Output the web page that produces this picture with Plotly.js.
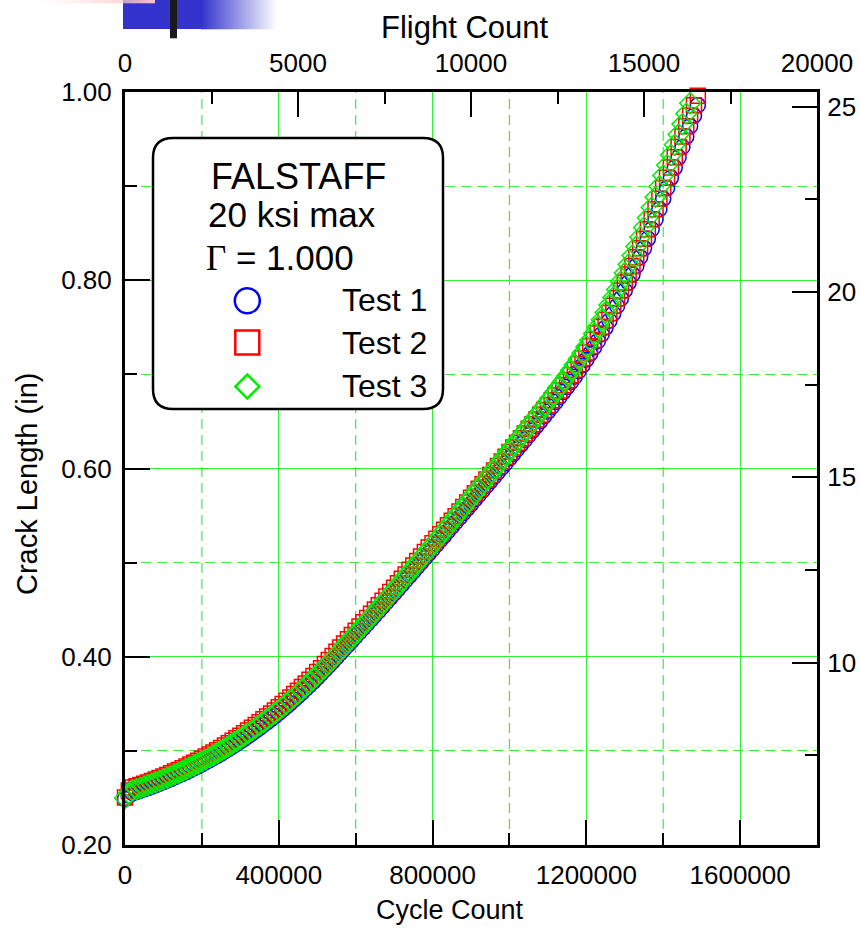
<!DOCTYPE html>
<html><head><meta charset="utf-8">
<script src="https://cdn.plot.ly/plotly-3.0.1.min.js"></script>
<style>body{margin:0;background:#fff}#chart{width:860px;height:930px}</style>
</head><body><div id="chart"></div>
<script>
// ---- data: cycle count (every 10000 cycles) and crack length (in) ----
const cycles = [0,10000,20000,30000,40000,50000,60000,70000,80000,90000,100000,110000,120000,130000,140000,150000,160000,170000,180000,190000,200000,210000,220000,230000,240000,250000,260000,270000,280000,290000,300000,310000,320000,330000,340000,350000,360000,370000,380000,390000,400000,410000,420000,430000,440000,450000,460000,470000,480000,490000,500000,510000,520000,530000,540000,550000,560000,570000,580000,590000,600000,610000,620000,630000,640000,650000,660000,670000,680000,690000,700000,710000,720000,730000,740000,750000,760000,770000,780000,790000,800000,810000,820000,830000,840000,850000,860000,870000,880000,890000,900000,910000,920000,930000,940000,950000,960000,970000,980000,990000,1000000,1010000,1020000,1030000,1040000,1050000,1060000,1070000,1080000,1090000,1100000,1110000,1120000,1130000,1140000,1150000,1160000,1170000,1180000,1190000,1200000,1210000,1220000,1230000,1240000,1250000,1260000,1270000,1280000,1290000,1300000,1310000,1320000,1330000,1340000,1350000,1360000,1370000,1380000,1390000,1400000,1410000,1420000,1430000,1440000,1450000,1460000,1470000,1480000,1490000];
const test1 = [0.2490,0.2525,0.2550,0.2563,0.2577,0.2591,0.2605,0.2620,0.2636,0.2652,0.2668,0.2685,0.2702,0.2720,0.2738,0.2756,0.2775,0.2795,0.2815,0.2836,0.2857,0.2879,0.2901,0.2924,0.2947,0.2971,0.2996,0.3021,0.3047,0.3073,0.3100,0.3128,0.3156,0.3185,0.3214,0.3244,0.3275,0.3306,0.3338,0.3370,0.3403,0.3437,0.3472,0.3507,0.3543,0.3580,0.3618,0.3657,0.3696,0.3736,0.3777,0.3819,0.3862,0.3905,0.3949,0.3993,0.4037,0.4082,0.4127,0.4172,0.4217,0.4261,0.4306,0.4352,0.4397,0.4442,0.4487,0.4533,0.4580,0.4626,0.4672,0.4718,0.4766,0.4813,0.4860,0.4907,0.4954,0.5002,0.5049,0.5096,0.5143,0.5191,0.5238,0.5285,0.5333,0.5381,0.5430,0.5478,0.5526,0.5574,0.5622,0.5671,0.5719,0.5767,0.5815,0.5864,0.5912,0.5960,0.6008,0.6057,0.6107,0.6156,0.6205,0.6254,0.6303,0.6353,0.6402,0.6451,0.6501,0.6552,0.6603,0.6654,0.6706,0.6758,0.6812,0.6865,0.6919,0.6975,0.7033,0.7094,0.7156,0.7220,0.7286,0.7355,0.7425,0.7497,0.7571,0.7647,0.7726,0.7807,0.7891,0.7975,0.8062,0.8152,0.8245,0.8341,0.8440,0.8542,0.8647,0.8755,0.8866,0.8980,0.9088,0.9197,0.9306,0.9416,0.9526,0.9637,0.9748,0.9860];
const test2 = [0.2505,0.2580,0.2610,0.2623,0.2637,0.2651,0.2665,0.2680,0.2696,0.2712,0.2728,0.2745,0.2762,0.2780,0.2798,0.2816,0.2835,0.2855,0.2875,0.2896,0.2917,0.2939,0.2961,0.2984,0.3007,0.3031,0.3056,0.3081,0.3107,0.3133,0.3160,0.3188,0.3216,0.3245,0.3274,0.3304,0.3335,0.3366,0.3398,0.3430,0.3463,0.3497,0.3532,0.3567,0.3603,0.3640,0.3678,0.3717,0.3756,0.3796,0.3837,0.3879,0.3922,0.3965,0.4009,0.4053,0.4097,0.4142,0.4187,0.4232,0.4277,0.4321,0.4367,0.4412,0.4458,0.4503,0.4548,0.4595,0.4641,0.4688,0.4734,0.4780,0.4828,0.4875,0.4923,0.4970,0.5017,0.5065,0.5112,0.5160,0.5207,0.5254,0.5302,0.5349,0.5398,0.5446,0.5494,0.5543,0.5591,0.5640,0.5688,0.5736,0.5785,0.5833,0.5882,0.5930,0.5978,0.6027,0.6075,0.6125,0.6174,0.6223,0.6273,0.6322,0.6372,0.6421,0.6470,0.6520,0.6570,0.6621,0.6672,0.6724,0.6777,0.6830,0.6884,0.6938,0.6993,0.7050,0.7109,0.7170,0.7233,0.7298,0.7365,0.7434,0.7505,0.7578,0.7653,0.7730,0.7809,0.7891,0.7975,0.8062,0.8152,0.8245,0.8341,0.8440,0.8542,0.8647,0.8755,0.8866,0.8980,0.9088,0.9197,0.9306,0.9416,0.9526,0.9637,0.9748,0.9860,0.9960];
const test3 = [0.2500,0.2550,0.2580,0.2593,0.2607,0.2621,0.2635,0.2650,0.2666,0.2682,0.2698,0.2715,0.2732,0.2750,0.2768,0.2786,0.2805,0.2825,0.2845,0.2866,0.2887,0.2909,0.2931,0.2954,0.2977,0.3001,0.3026,0.3051,0.3077,0.3103,0.3130,0.3158,0.3186,0.3215,0.3244,0.3274,0.3305,0.3336,0.3368,0.3400,0.3433,0.3467,0.3502,0.3537,0.3573,0.3610,0.3648,0.3687,0.3726,0.3766,0.3807,0.3849,0.3892,0.3935,0.3979,0.4023,0.4067,0.4112,0.4157,0.4202,0.4247,0.4292,0.4338,0.4384,0.4430,0.4476,0.4522,0.4569,0.4616,0.4663,0.4710,0.4757,0.4805,0.4853,0.4901,0.4949,0.4997,0.5045,0.5093,0.5141,0.5189,0.5238,0.5287,0.5337,0.5387,0.5437,0.5487,0.5537,0.5588,0.5638,0.5688,0.5738,0.5788,0.5839,0.5889,0.5939,0.5989,0.6039,0.6090,0.6141,0.6192,0.6243,0.6294,0.6346,0.6397,0.6448,0.6499,0.6551,0.6603,0.6656,0.6709,0.6763,0.6818,0.6873,0.6928,0.6984,0.7042,0.7102,0.7163,0.7227,0.7293,0.7362,0.7433,0.7506,0.7581,0.7658,0.7737,0.7818,0.7902,0.7988,0.8077,0.8168,0.8262,0.8358,0.8458,0.8561,0.8665,0.8772,0.8883,0.8996,0.9112,0.9221,0.9330,0.9439,0.9549,0.9659,0.9770,0.9881];
const seriesNames = ['Test 1','Test 2','Test 3'];
const seriesColors = ['#0000ff','#ff0000','#00ee00'];
const seriesSymbols = ['circle-open','square-open','diamond-open'];
const legendLines = ['FALSTAFF','20 ksi max'];
const gammaValue = '1.000';
const axisTitles = {bottom:'Cycle Count', top:'Flight Count', left:'Crack Length (in)'};
const cyclesPerFlight = 90;      // top axis: flights = cycles / 90
const mmPerInch = 25.4;          // right axis: crack length in mm
const xMax = 1800000, xMajor = 400000, xMinor = 200000, yMin = 0.2, yMax = 1.0;

// ---- geometry helpers (pixel -> paper) ----
const L = 125, R = 817, T = 92, B = 845;
const px = x => (x - L) / (R - L);
const py = y => (B - y) / (B - T);
const FONT = '"Liberation Sans", Arial, Helvetica, sans-serif';

const ys = [test1, test2, test3];
const traces = ys.map((y, i) => ({
  type: 'scatter', mode: 'markers', name: seriesNames[i],
  x: cycles.slice(0, y.length), y: y, cliponaxis: false,
  marker: {symbol: seriesSymbols[i], size: i === 2 ? 16 : 15, color: seriesColors[i],
           line: {width: 1.5, color: seriesColors[i]}},
  xaxis: 'x', yaxis: 'y', showlegend: false
}));
// empty helper traces so the secondary (flight count / mm) axes are drawn
traces.push({type:'scatter', mode:'markers', x:[0], y:[null], xaxis:'x2', yaxis:'y', showlegend:false, hoverinfo:'skip'});
traces.push({type:'scatter', mode:'markers', x:[0], y:[null], xaxis:'x', yaxis:'y2', showlegend:false, hoverinfo:'skip'});

const tickFont = {family: FONT, size: 26, color: '#000'};
const GRID = 'rgb(50,240,50)', GRIDD = 'rgb(60,235,60)';

function roundRect(x0, y0, x1, y1, r) {
  const P = (x, y) => px(x) + ',' + py(y);
  return 'M' + P(x0 + r, y0) + ' L' + P(x1 - r, y0) + ' Q' + P(x1, y0) + ' ' + P(x1, y0 + r) +
    ' L' + P(x1, y1 - r) + ' Q' + P(x1, y1) + ' ' + P(x1 - r, y1) +
    ' L' + P(x0 + r, y1) + ' Q' + P(x0, y1) + ' ' + P(x0, y1 - r) +
    ' L' + P(x0, y0 + r) + ' Q' + P(x0, y0) + ' ' + P(x0 + r, y0) + ' Z';
}
const mx = 247.3, mr = 12.5;
const shapes = [];
// dashed vertical grid at the minor cycle-count ticks
for (let v = xMinor; v < xMax; v += xMajor) {
  shapes.push({type:'line', xref:'x', yref:'paper', x0:v, x1:v, y0:0, y1:1, layer:'below',
    line:{color:GRIDD, width:1.2, dash:'10px,6px'}});
}
shapes.push(
  {type:'path', xref:'paper', yref:'paper', layer:'above', path: roundRect(153, 138, 443, 409, 20),
   fillcolor:'#fff', line:{color:'#000', width:2.5}},
  {type:'circle', xref:'paper', yref:'paper', layer:'above', x0:px(mx-mr), x1:px(mx+mr), y0:py(300.7+mr), y1:py(300.7-mr),
   line:{color:seriesColors[0], width:2.5}},
  {type:'rect', xref:'paper', yref:'paper', layer:'above', x0:px(mx-12), x1:px(mx+12), y0:py(342.5+12), y1:py(342.5-12),
   line:{color:seriesColors[1], width:2.5}},
  {type:'path', xref:'paper', yref:'paper', layer:'above',
   path:'M'+px(mx)+','+py(386.5-12)+' L'+px(mx+12)+','+py(386.5)+' L'+px(mx)+','+py(386.5+12)+' L'+px(mx-12)+','+py(386.5)+' Z',
   line:{color:seriesColors[2], width:2.5}}
);
const ann = (text, x, y, xanchor, size, extra) => Object.assign({text, x:px(x), y:py(y), xref:'paper', yref:'paper',
  xanchor, yanchor:'middle', showarrow:false, font:{family:FONT, size, color:'#000'}}, extra || {});
const annotations = [
  ann(legendLines[0], 298, 176, 'center', 36),
  ann(legendLines[1], 206, 215, 'left', 35),
  ann('<span style="font-family:\'Liberation Serif\',\'Times New Roman\',serif">Γ</span> = ' + gammaValue, 204, 258, 'left', 35),
  ann(seriesNames[0], 340, 300, 'left', 32),
  ann(seriesNames[1], 340, 343, 'left', 32),
  ann(seriesNames[2], 340, 386, 'left', 32),
  ann(axisTitles.top, 465, 27, 'center', 31),
  ann(axisTitles.bottom, 450, 910, 'center', 27),
  ann(axisTitles.left, 27, 484, 'center', 29, {textangle:-90})
];

const deco = "<svg xmlns='http://www.w3.org/2000/svg' width='300' height='40' viewBox='0 0 300 40' preserveAspectRatio='none'>" +
  "<defs><linearGradient id='g' x1='0' x2='1' y1='0' y2='0'><stop offset='0' stop-color='#3333cc'/><stop offset='1' stop-color='#3333cc' stop-opacity='0'/></linearGradient>" +
  "<linearGradient id='p' x1='0' x2='1' y1='0' y2='0'><stop offset='0' stop-color='#ffd0d0' stop-opacity='0'/><stop offset='1' stop-color='#ffc4c4'/></linearGradient></defs>" +
  "<rect x='123' y='0' width='79' height='29' fill='#3333cc'/>" +
  "<rect x='201' y='0' width='76' height='29.3' fill='url(#g)'/>" +
  "<rect x='40' y='0' width='115' height='3.3' fill='url(#p)'/>" +
  "<rect x='170' y='0' width='7' height='38.3' fill='#1a1a1a'/></svg>";

const layout = {
  width: 860, height: 930, paper_bgcolor:'#fff', plot_bgcolor:'#fff',
  margin: {l: L, r: 860 - R, t: T, b: 930 - B, pad: 0},
  showlegend: false,
  xaxis: {range:[0, xMax], tick0:0, dtick:xMajor, tickformat:'d', ticks:'inside', ticklen:25, tickwidth:2, tickcolor:'#000',
    showline:true, linecolor:'#000', linewidth:3, showgrid:true, gridcolor:GRID, gridwidth:1, zeroline:false,
    tickfont:tickFont, ticklabelstandoff:5,
    minor:{tick0:0, dtick:xMinor, ticks:'inside', ticklen:12, tickwidth:2, tickcolor:'#000', showgrid:false}},
  xaxis2: {overlaying:'x', side:'top', anchor:'y', range:[0, xMax / cyclesPerFlight], tick0:0, dtick:5000, tickformat:'d', ticks:'inside', ticklen:25, tickwidth:2, tickcolor:'#000',
    showline:true, linecolor:'#000', linewidth:3, showgrid:false, zeroline:false, tickfont:tickFont, ticklabelstandoff:7,
    minor:{tick0:0, dtick:2500, ticks:'inside', ticklen:12, tickwidth:2, tickcolor:'#000', showgrid:false}},
  yaxis: {range:[yMin, yMax], tick0:0, dtick:0.2, tickformat:'.2f', ticks:'inside', ticklen:25, tickwidth:2, tickcolor:'#000',
    showline:true, linecolor:'#000', linewidth:3, showgrid:true, gridcolor:GRID, gridwidth:1, zeroline:false,
    tickfont:tickFont, ticklabelstandoff:5,
    minor:{tick0:0, dtick:0.1, ticks:'inside', ticklen:12, tickwidth:2, tickcolor:'#000', showgrid:true, gridcolor:GRIDD, griddash:'10px,6px', gridwidth:1.2}},
  yaxis2: {overlaying:'y', side:'right', anchor:'x', range:[yMin * mmPerInch, yMax * mmPerInch], tick0:0, dtick:5, ticks:'inside', ticklen:25, tickwidth:2, tickcolor:'#000',
    showline:true, linecolor:'#000', linewidth:3, showgrid:false, zeroline:false, tickfont:tickFont, ticklabelstandoff:2,
    minor:{tick0:0, dtick:2.5, ticks:'inside', ticklen:12, tickwidth:2, tickcolor:'#000', showgrid:false}},
  shapes, annotations,
  images: [{source:'data:image/svg+xml;charset=utf-8,' + encodeURIComponent(deco), xref:'paper', yref:'paper',
    x:px(0), y:py(0), sizex:px(300) - px(0), sizey:py(0) - py(40), xanchor:'left', yanchor:'top', sizing:'stretch', layer:'above'}]
};
Plotly.newPlot('chart', traces, layout, {staticPlot:true, displayModeBar:false});
</script></body></html>
